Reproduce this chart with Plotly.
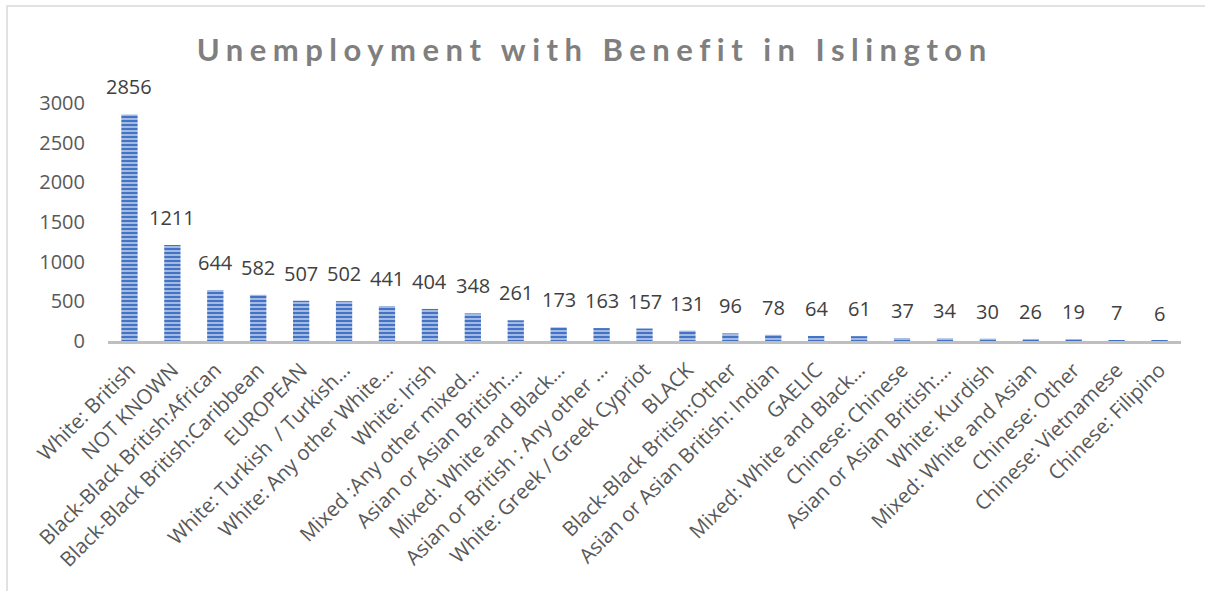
import plotly.graph_objects as go

categories = [
    "White: British", "NOT KNOWN", "Black-Black British:African",
    "Black-Black British:Caribbean", "EUROPEAN", "White: Turkish  / Turkish…",
    "White: Any other White…", "White: Irish", "Mixed :Any other mixed…",
    "Asian or Asian British:…", "Mixed: White and Black…",
    "Asian or British : Any other …", "White: Greek / Greek Cypriot", "BLACK",
    "Black-Black British:Other", "Asian or Asian British: Indian", "GAELIC",
    "Mixed: White and Black…", "Chinese: Chinese", "Asian or Asian British:…",
    "White: Kurdish", "Mixed: White and Asian", "Chinese: Other",
    "Chinese: Vietnamese", "Chinese: Filipino",
]
values = [2856, 1211, 644, 582, 507, 502, 441, 404, 348, 261, 173, 163, 157,
          131, 96, 78, 64, 61, 37, 34, 30, 26, 19, 7, 6]
y_ticks = [0, 500, 1000, 1500, 2000, 2500, 3000]

positions = list(range(len(categories)))

fig = go.Figure(go.Bar(
    x=positions,
    y=values,
    marker=dict(
        color="#8FAADC",
        line=dict(width=0),
        pattern=dict(shape="-", fgcolor="#4472C4", bgcolor="#A3BAE2",
                     size=4, solidity=0.5, fillmode="replace"),
    ),
    width=0.38,
    hoverinfo="x+y",
))

for xp, v in zip(positions, values):
    fig.add_annotation(
        x=xp, y=v, text=str(v), showarrow=False,
        xanchor="center", yanchor="bottom", yshift=12,
        font=dict(family="Open Sans", size=20, color="#404040"),
    )

fig.update_layout(
    width=1205, height=591,
    margin=dict(l=108, r=24, t=103, b=250),
    paper_bgcolor="white", plot_bgcolor="white",
    showlegend=False,
    title=dict(
        text="<b>Unemployment with Benefit in Islington</b>",
        x=0.4935, xanchor="center", y=0.915, yanchor="middle",
        font=dict(family="Lato", size=31, color="#7F7F7F"),
    ),
    xaxis=dict(
        tickmode="array", tickvals=positions, ticktext=categories,
        tickangle=-45, range=[-0.5, len(categories) - 0.5],
        showline=True, linecolor="#BFBFBF", linewidth=3,
        showgrid=False, zeroline=False, ticks="",
        ticklabelstandoff=6,
        tickfont=dict(family="Open Sans", size=20.5, color="#595959"),
    ),
    yaxis=dict(
        range=[0, 3000], tickmode="array", tickvals=y_ticks,
        showgrid=False, zeroline=False, showline=False, ticks="",
        ticklabelstandoff=22,
        tickfont=dict(family="Open Sans", size=20, color="#595959"),
    ),
    shapes=[dict(
        type="rect", xref="paper", yref="paper",
        x0=-0.0941, x1=1.2, y0=-1.5, y1=1.4076,
        line=dict(color="#D9D9D9", width=1.5), fillcolor="rgba(0,0,0,0)",
        layer="below",
    )],
)

fig.write_html(
    "out.html",
    config={"displayModeBar": False},
    post_script=(
        "document.body.style.margin='0';"
        "document.querySelectorAll('.gtitle').forEach(function(e){e.style.letterSpacing='6.5px';});"
    ),
)
